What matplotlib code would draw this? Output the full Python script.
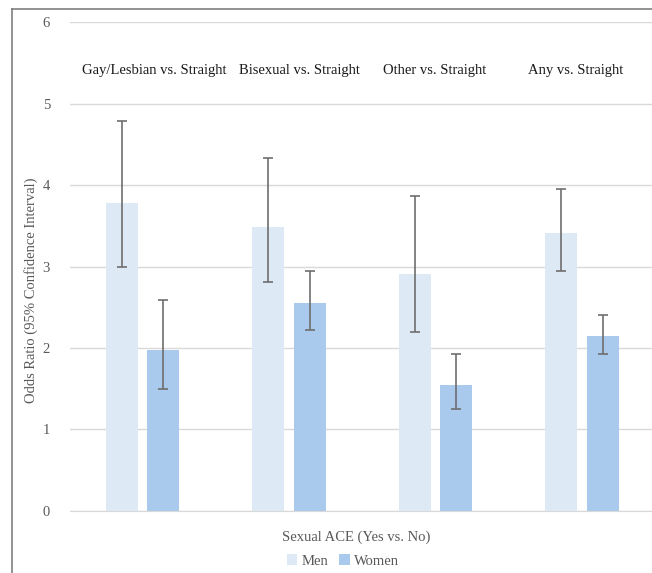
import numpy as np
import matplotlib
matplotlib.use('Agg')
import matplotlib.pyplot as plt
from matplotlib.lines import Line2D

plt.rcParams['font.family'] = ['Liberation Serif', 'DejaVu Serif']

# 数据
groups = ['Gay/Lesbian vs. Straight', 'Bisexual vs. Straight',
          'Other vs. Straight', 'Any vs. Straight']
men = [3.78, 3.49, 2.91, 3.41]
men_lo = [2.99, 2.81, 2.20, 2.94]
men_hi = [4.79, 4.33, 3.86, 3.95]
women = [1.97, 2.55, 1.55, 2.15]
women_lo = [1.50, 2.22, 1.25, 1.92]
women_hi = [2.59, 2.94, 1.93, 2.40]

W, H = 652, 573
fig = plt.figure(figsize=(W / 100, H / 100), dpi=100)
ax = fig.add_axes([69.5 / W, 1 - 510.7 / H, 582.5 / W, (510.7 - 22.3) / H])

x = np.arange(len(groups))
bw = 0.219
off = 0.142
err_m = [np.array(men) - np.array(men_lo), np.array(men_hi) - np.array(men)]
err_w = [np.array(women) - np.array(women_lo), np.array(women_hi) - np.array(women)]
ekw = dict(ecolor='#6e6e6e', elinewidth=1.2, capsize=3.5, capthick=1.2)
ax.bar(x - off, men, bw, color='#DDEAF6', yerr=err_m, error_kw=ekw, label='Men', zorder=2)
ax.bar(x + off, women, bw, color='#A9CAEC', yerr=err_w, error_kw=ekw, label='Women', zorder=2)

ax.set_xlim(-0.5, 3.48)
ax.set_ylim(0, 6)
ax.set_yticks(range(7))
ax.set_xticks([])
ax.grid(axis='y', color='#d9d9d9', linewidth=1, zorder=0)
ax.set_axisbelow(True)
for s in ['left', 'right', 'top']:
    ax.spines[s].set_visible(False)
ax.spines['bottom'].set_color('#d9d9d9')
ax.tick_params(axis='y', length=0, pad=14, labelsize=10.5, labelcolor='#595959')

# 组标签
lab_x = [-0.414, 0.66, 1.644, 2.634]
for xi, g in zip(lab_x, groups):
    ax.text(xi, 5.41, g, ha='left', va='center', fontsize=10.5, color='#1a1a1a')

ax.set_ylabel('Odds Ratio (95% Confidence Interval)', fontsize=10.5, color='#595959')
ax.yaxis.set_label_coords(-0.054, 0.452)
ax.set_xlabel('Sexual ACE (Yes vs. No)', fontsize=10.5, color='#595959')
ax.xaxis.set_label_coords(0.492, -0.041)

fig.legend(loc='center', bbox_to_anchor=(343 / W, 1 - 561 / H), ncol=2, frameon=False,
           fontsize=10.5, labelcolor='#595959', handlelength=0.7, handleheight=0.7,
           handletextpad=0.3, columnspacing=0.75)

# 外框
fig.add_artist(Line2D([12 / W, 12 / W], [0, 1 - 9 / H], color='#7f7f7f', lw=1.2,
                      transform=fig.transFigure))
fig.add_artist(Line2D([12 / W, 1], [1 - 9 / H, 1 - 9 / H], color='#7f7f7f', lw=1.2,
                      transform=fig.transFigure))

fig.savefig('out.png', dpi=100)
